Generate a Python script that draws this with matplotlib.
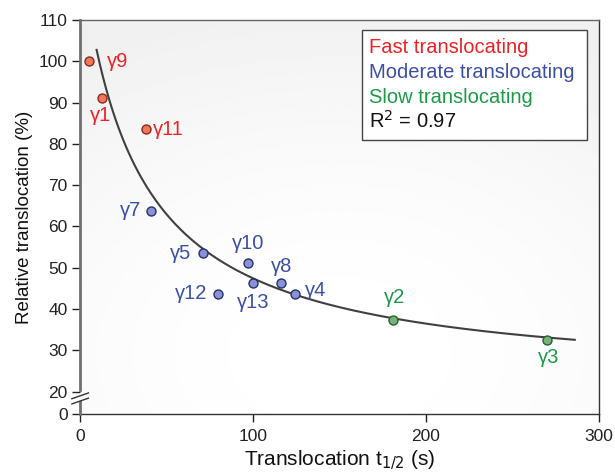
import numpy as np
import matplotlib
matplotlib.use("Agg")
import matplotlib.pyplot as plt
from matplotlib.lines import Line2D
from matplotlib.transforms import offset_copy

plt.rcParams['font.family'] = ['Liberation Sans', 'DejaVu Sans']

# ---- data ----
names = ["γ9", "γ1", "γ11", "γ7", "γ5", "γ10", "γ13", "γ12", "γ8", "γ4", "γ2", "γ3"]
t_half = [5, 12.5, 38, 41, 71, 97, 100, 80, 116, 124, 181, 270]
rel_trans = [100, 91, 83.5, 63.7, 53.6, 51.2, 46.2, 43.7, 46.2, 43.7, 37.4, 32.6]
groups = ["fast", "fast", "fast", "mod", "mod", "mod", "mod", "mod", "mod", "mod", "slow", "slow"]

# fit: y = a + b / (x + c)
fit_a, fit_b, fit_c = 22.0, 3360.0, 32.0
fit_range = (9.6, 286)
r_squared = 0.97

x_ticks = [0, 100, 200, 300]
y_ticks = [0, 20, 30, 40, 50, 60, 70, 80, 90, 100, 110]

text_col = {"fast": "#ec2227", "mod": "#3b4fa6", "slow": "#1c9a48"}
face_col = {"fast": "#f2765a", "mod": "#8793d6", "slow": "#72b47a"}
edge_col = {"fast": "#8a2a1a", "mod": "#28306a", "slow": "#2f5a30"}

# label placement (data coords) and alignment
label_pos = {
    "γ9": (15.6, 100, "left"), "γ1": (11.6, 86.9, "center"), "γ11": (42.2, 83.5, "left"),
    "γ7": (35.6, 63.8, "right"), "γ5": (64.5, 53.4, "right"), "γ10": (97.3, 55.9, "center"),
    "γ13": (100.2, 41.6, "center"), "γ12": (73.8, 43.7, "right"), "γ8": (116.6, 50.3, "center"),
    "γ4": (130, 44.5, "left"), "γ2": (181.7, 42.7, "center"), "γ3": (271, 28.3, "center"),
}

# broken axis: 0 drawn just below 20
Y0 = 14.6
def ymap(v):
    v = np.asarray(v, dtype=float)
    return np.where(v <= 0, Y0, v)

fig = plt.figure(figsize=(6.15, 4.73), dpi=100)
ax = fig.add_axes([80/615, 59/473, 519/615, 394/473])

# subtle gradient background
gx, gy = np.meshgrid(np.linspace(0, 1, 200), np.linspace(0, 1, 200))
d = np.sqrt((gx - 0.5) ** 2 * 1.0 + (gy - 0.15) ** 2 * 1.2)
bg = 1.0 - 0.055 * np.clip(d / 0.95, 0, 1) ** 1.8
ax.imshow(bg, extent=(0, 1, 0, 1), transform=ax.transAxes, cmap="gray",
          vmin=0, vmax=1, origin="lower", aspect="auto", zorder=0)

ax.set_xlim(0, 300)
ax.set_ylim(Y0, 110)

# fit curve
xf = np.linspace(fit_range[0], fit_range[1], 300)
ax.plot(xf, fit_a + fit_b / (xf + fit_c), color="#404040", lw=1.5, zorder=2)

for n, x, y, g in zip(names, t_half, rel_trans, groups):
    ax.scatter([x], [y], s=42, color=face_col[g], edgecolor=edge_col[g], linewidth=1.0, zorder=3)
    lx, ly, ha = label_pos[n]
    ax.text(lx, ly, n, color=text_col[g], fontsize=14.5, ha=ha, va="center", zorder=4)

# ticks
ax.set_xticks(x_ticks)
ax.set_yticks(ymap(y_ticks))
ax.set_yticklabels([str(v) for v in y_ticks])
ax.tick_params(axis="both", labelsize=12.5, length=6, width=1, direction="out", colors="#222222")
ax.tick_params(axis="y", pad=3)
ax.tick_params(axis="x", pad=5)

for s in ["top", "right", "bottom"]:
    ax.spines[s].set_color("#333333")
    ax.spines[s].set_linewidth(1.0)
ax.spines["left"].set_visible(False)
ax.spines["top"].set_color("#666666")

# left spine with break
trans = ax.get_yaxis_transform()
ax.add_line(Line2D([0, 0], [20.3, 110], transform=trans, color="#707070", lw=2, clip_on=False, zorder=5))
ax.add_line(Line2D([0, 0], [Y0, 17.4], transform=trans, color="#707070", lw=2, clip_on=False, zorder=5))
for dy in [0, -5.2]:
    t = offset_copy(ax.transData, fig=fig, x=0, y=dy, units="dots")
    ax.add_line(Line2D([-4.7, 4.9], [18.3, 19.7], transform=t, color="#333333", lw=1.0,
                       clip_on=False, zorder=6))

ax.set_xlabel("Translocation t$_{1/2}$ (s)", fontsize=15, labelpad=3, color="#111111")
ax.set_ylabel("Relative translocation (%)", fontsize=13.5, labelpad=4, color="#111111")

# legend box
lx0, ly0 = (362 - 80) / 519, (473 - 140 - 59) / 394
lw_, lh_ = (587 - 362) / 519, (140 - 30) / 394
ax.add_patch(plt.Rectangle((lx0, ly0), lw_, lh_, transform=ax.transAxes, facecolor="white",
                           edgecolor="#444444", lw=1.0, zorder=6))
leg_lines = [("Fast translocating", text_col["fast"]),
             ("Moderate translocating", text_col["mod"]),
             ("Slow translocating", text_col["slow"]),
             ("R$^2$ = %.2f" % r_squared, "#111111")]
tx = (369 - 80) / 519
for i, (s, c) in enumerate(leg_lines):
    yb = 53 + 25 * i
    ty = (414 - yb) / 394
    ax.text(tx, ty, s, transform=ax.transAxes, color=c, fontsize=14.5, ha="left",
            va="baseline", zorder=7)

fig.savefig("out.png", dpi=100)
